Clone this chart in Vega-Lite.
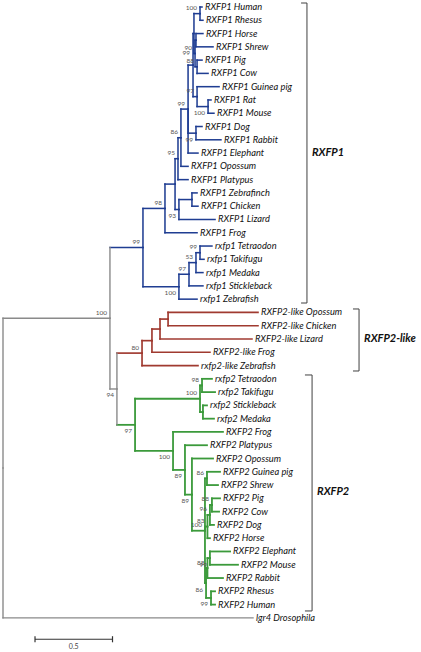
{
  "$schema": "https://vega.github.io/schema/vega-lite/v6.json",
  "width": 421,
  "height": 652,
  "autosize": {"type": "fit", "contains": "padding"},
  "padding": 0,
  "background": "white",
  "config": {"view": {"stroke": null}, "axis": {"disable": true}, "legend": {"disable": true}},
  "datasets": {
    "tree": [
      {"id":"root","parent":null,"x":0,"y":34.72,"g":"gray"},
      {"id":"A","parent":"root","x":0.690,"y":23.44,"g":"gray","bs":"100","pos":"above"},
      {"id":"L46","parent":"root","x":1.613,"y":46,"g":"gray","name":"lgr4 Drosophila"},
      {"id":"B","parent":"A","x":0.735,"y":28.764,"g":"gray","bs":"94","pos":"below"},
      {"id":"RX1","parent":"A","x":0.903,"y":18.115,"g":"blue","bs":"99","pos":"above"},
      {"id":"N98","parent":"RX1","x":1.045,"y":15.168,"g":"blue","bs":"98","pos":"above"},
      {"id":"L17","parent":"N98","x":1.252,"y":17,"g":"blue","name":"RXFP1 Frog"},
      {"id":"Amn","parent":"N98","x":1.110,"y":13.336,"g":"blue"},
      {"id":"N95","parent":"Amn","x":1.129,"y":11.422,"g":"blue","bs":"95","pos":"above"},
      {"id":"N93","parent":"Amn","x":1.135,"y":15.25,"g":"blue","bs":"93","pos":"below"},
      {"id":"ZC","parent":"N93","x":1.219,"y":14.5,"g":"blue"},
      {"id":"L14","parent":"ZC","x":1.252,"y":14,"g":"blue","name":"RXFP1 Zebrafinch"},
      {"id":"L15","parent":"ZC","x":1.258,"y":15,"g":"blue","name":"RXFP1 Chicken"},
      {"id":"L16","parent":"N93","x":1.368,"y":16,"g":"blue","name":"RXFP1 Lizard"},
      {"id":"L13","parent":"N95","x":1.194,"y":13,"g":"blue","name":"RXFP1 Platypus"},
      {"id":"N86","parent":"N95","x":1.148,"y":9.844,"g":"blue","bs":"86","pos":"above"},
      {"id":"L12","parent":"N86","x":1.194,"y":12,"g":"blue","name":"RXFP1 Opossum"},
      {"id":"E","parent":"N86","x":1.194,"y":7.6875,"g":"blue","bs":"99","pos":"above"},
      {"id":"L11","parent":"E","x":1.258,"y":11,"g":"blue","name":"RXFP1 Elephant"},
      {"id":"DR","parent":"E","x":1.245,"y":9.5,"g":"blue","bs":"99","pos":"below"},
      {"id":"L9","parent":"DR","x":1.284,"y":9,"g":"blue","name":"RXFP1 Dog"},
      {"id":"L10","parent":"DR","x":1.406,"y":10,"g":"blue","name":"RXFP1 Rabbit"},
      {"id":"P2","parent":"E","x":1.226,"y":4.375,"g":"blue","bs":"99","pos":"high"},
      {"id":"GRM","parent":"P2","x":1.252,"y":6.75,"g":"blue","bs":"97","pos":"above"},
      {"id":"L6","parent":"GRM","x":1.394,"y":6,"g":"blue","name":"RXFP1 Guinea pig"},
      {"id":"RM","parent":"GRM","x":1.323,"y":7.5,"g":"blue","bs":"100","pos":"below"},
      {"id":"L7","parent":"RM","x":1.342,"y":7,"g":"blue","name":"RXFP1 Rat"},
      {"id":"L8","parent":"RM","x":1.361,"y":8,"g":"blue","name":"RXFP1 Mouse"},
      {"id":"P1","parent":"P2","x":1.232,"y":2.0,"g":"blue"},
      {"id":"HR","parent":"P1","x":1.271,"y":0.5,"g":"blue","bs":"100","pos":"above"},
      {"id":"L0","parent":"HR","x":1.284,"y":0,"g":"blue","name":"RXFP1 Human"},
      {"id":"L1","parent":"HR","x":1.290,"y":1,"g":"blue","name":"RXFP1 Rhesus"},
      {"id":"N90","parent":"P1","x":1.239,"y":3.5,"g":"blue","bs":"90","pos":"above"},
      {"id":"HS","parent":"N90","x":1.245,"y":2.5,"g":"blue"},
      {"id":"L2","parent":"HS","x":1.290,"y":2,"g":"blue","name":"RXFP1 Horse"},
      {"id":"L3","parent":"HS","x":1.355,"y":3,"g":"blue","name":"RXFP1 Shrew"},
      {"id":"PC1","parent":"N90","x":1.252,"y":4.5,"g":"blue","bs":"88","pos":"above"},
      {"id":"L4","parent":"PC1","x":1.284,"y":4,"g":"blue","name":"RXFP1 Pig"},
      {"id":"L5","parent":"PC1","x":1.323,"y":5,"g":"blue","name":"RXFP1 Cow"},
      {"id":"F1","parent":"RX1","x":1.135,"y":21.0625,"g":"blue","bs":"100","pos":"below"},
      {"id":"L22","parent":"F1","x":1.252,"y":22,"g":"blue","name":"rxfp1 Zebrafish"},
      {"id":"N97f","parent":"F1","x":1.200,"y":20.125,"g":"blue","bs":"97","pos":"above"},
      {"id":"L21","parent":"N97f","x":1.290,"y":21,"g":"blue","name":"rxfp1 Stickleback"},
      {"id":"N53","parent":"N97f","x":1.245,"y":19.25,"g":"blue","bs":"53","pos":"above"},
      {"id":"L20","parent":"N53","x":1.290,"y":20,"g":"blue","name":"rxfp1 Medaka"},
      {"id":"TT1","parent":"N53","x":1.271,"y":18.5,"g":"blue","bs":"99","pos":"above"},
      {"id":"L18","parent":"TT1","x":1.348,"y":18,"g":"blue","name":"rxfp1 Tetraodon"},
      {"id":"L19","parent":"TT1","x":1.297,"y":19,"g":"blue","name":"rxfp1 Takifugu"},
      {"id":"N80","parent":"B","x":0.897,"y":26.0625,"g":"red","bs":"80","pos":"above"},
      {"id":"L27","parent":"N80","x":1.258,"y":27,"g":"red","name":"rxfp2-like Zebrafish"},
      {"id":"OCLF","parent":"N80","x":0.961,"y":25.125,"g":"red"},
      {"id":"L26","parent":"OCLF","x":1.335,"y":26,"g":"red","name":"RXFP2-like Frog"},
      {"id":"OCL","parent":"OCLF","x":1.013,"y":24.25,"g":"red"},
      {"id":"L25","parent":"OCL","x":1.606,"y":25,"g":"red","name":"RXFP2-like Lizard"},
      {"id":"OC","parent":"OCL","x":1.065,"y":23.5,"g":"red"},
      {"id":"L23","parent":"OC","x":1.645,"y":23,"g":"red","name":"RXFP2-like Opossum"},
      {"id":"L24","parent":"OC","x":1.645,"y":24,"g":"red","name":"RXFP2-like Chicken"},
      {"id":"N97g","parent":"B","x":0.852,"y":31.465,"g":"green","bs":"97","pos":"below"},
      {"id":"F2","parent":"N97g","x":1.271,"y":29.5,"g":"green","bs":"100","pos":"above"},
      {"id":"TT2","parent":"F2","x":1.284,"y":28.5,"g":"green","bs":"98","pos":"above"},
      {"id":"L28","parent":"TT2","x":1.348,"y":28,"g":"green","name":"rxfp2 Tetraodon"},
      {"id":"L29","parent":"TT2","x":1.368,"y":29,"g":"green","name":"rxfp2 Takifugu"},
      {"id":"SM","parent":"F2","x":1.290,"y":30.5,"g":"green"},
      {"id":"L30","parent":"SM","x":1.316,"y":30,"g":"green","name":"rxfp2 Stickleback"},
      {"id":"L31","parent":"SM","x":1.361,"y":31,"g":"green","name":"rxfp2 Medaka"},
      {"id":"N100b","parent":"N97g","x":1.097,"y":33.43,"g":"green","bs":"100","pos":"below"},
      {"id":"L32","parent":"N100b","x":1.419,"y":32,"g":"green","name":"RXFP2 Frog"},
      {"id":"X","parent":"N100b","x":1.174,"y":34.86,"g":"green","bs":"89","pos":"below"},
      {"id":"L33","parent":"X","x":1.316,"y":33,"g":"green","name":"RXFP2 Platypus"},
      {"id":"Y","parent":"X","x":1.219,"y":36.72,"g":"green","bs":"89","pos":"below"},
      {"id":"L34","parent":"Y","x":1.355,"y":34,"g":"green","name":"RXFP2 Opossum"},
      {"id":"PR","parent":"Y","x":1.303,"y":39.4375,"g":"green","bs":"100","pos":"above"},
      {"id":"GS","parent":"PR","x":1.316,"y":35.5,"g":"green","bs":"86","pos":"above"},
      {"id":"L35","parent":"GS","x":1.400,"y":35,"g":"green","name":"RXFP2 Guinea pig"},
      {"id":"L36","parent":"GS","x":1.387,"y":36,"g":"green","name":"RXFP2 Shrew"},
      {"id":"PCDH","parent":"PR","x":1.319,"y":39.125,"g":"green","bs":"83","pos":"above"},
      {"id":"L40","parent":"PCDH","x":1.335,"y":40,"g":"green","name":"RXFP2 Horse"},
      {"id":"PCD","parent":"PCDH","x":1.335,"y":38.25,"g":"green","bs":"96","pos":"above"},
      {"id":"L39","parent":"PCD","x":1.361,"y":39,"g":"green","name":"RXFP2 Dog"},
      {"id":"PC2","parent":"PCD","x":1.348,"y":37.5,"g":"green","bs":"88","pos":"above"},
      {"id":"L37","parent":"PC2","x":1.400,"y":37,"g":"green","name":"RXFP2 Pig"},
      {"id":"L38","parent":"PC2","x":1.394,"y":38,"g":"green","name":"RXFP2 Cow"},
      {"id":"ERR","parent":"PR","x":1.310,"y":43.375,"g":"green","bs":"86","pos":"below"},
      {"id":"ER","parent":"ERR","x":1.319,"y":42.25,"g":"green","bs":"88","pos":"above"},
      {"id":"EM","parent":"ER","x":1.335,"y":41.5,"g":"green","bs":"99","pos":"below"},
      {"id":"L41","parent":"EM","x":1.465,"y":41,"g":"green","name":"RXFP2 Elephant"},
      {"id":"L42","parent":"EM","x":1.516,"y":42,"g":"green","name":"RXFP2 Mouse"},
      {"id":"L43","parent":"ER","x":1.419,"y":43,"g":"green","name":"RXFP2 Rabbit"},
      {"id":"RH","parent":"ERR","x":1.342,"y":44.5,"g":"green","bs":"99","pos":"below"},
      {"id":"L44","parent":"RH","x":1.368,"y":44,"g":"green","name":"RXFP2 Rhesus"},
      {"id":"L45","parent":"RH","x":1.368,"y":45,"g":"green","name":"RXFP2 Human"}
    ],
    "clades": [
      {"clade":"RXFP1","bx":1.961,"tx":1.923,"top":-0.3,"bot":22.29,"ly":10.99},
      {"clade":"RXFP2-like","bx":2.297,"tx":2.258,"top":22.74,"bot":27.41,"ly":25.0},
      {"clade":"RXFP2","bx":1.994,"tx":1.948,"top":27.71,"bot":45.48,"ly":36.52}
    ],
    "scalebar": [
      {"x0":0.2065,"x1":0.7065,"xm":0.4565,"y":47.61,"ylo":47.38,"yhi":47.84,"label":"0.5"}
    ]
  },
  "layer": [
    {
      "data": {"name": "tree"},
      "transform": [
        {"filter": "datum.parent != null"},
        {"lookup": "parent", "from": {"data": {"name": "tree"}, "key": "id", "fields": ["x", "y", "g"]}, "as": ["px", "py", "pg"]}
      ],
      "mark": {"type": "rule", "strokeCap": "square"},
      "encoding": {
        "x": {"field": "px", "type": "quantitative", "scale": {"domain": [-0.01935, 2.69677], "nice": false, "zero": false}},
        "x2": {"field": "x"},
        "y": {"field": "y", "type": "quantitative", "scale": {"domain": [-0.527, 48.57], "reverse": true, "nice": false, "zero": false}},
        "color": {"field": "g", "type": "nominal", "scale": {"domain": ["gray", "blue", "red", "green"], "range": ["#8a8a8a", "#1f3d92", "#a03a30", "#3b9a3b"]}, "legend": null},
        "strokeWidth": {"field": "g", "type": "nominal", "scale": {"domain": ["gray", "blue", "red", "green"], "range": [1.4, 1.8, 1.6, 1.6]}, "legend": null}
      }
    },
    {
      "data": {"name": "tree"},
      "transform": [
        {"filter": "datum.parent != null"},
        {"lookup": "parent", "from": {"data": {"name": "tree"}, "key": "id", "fields": ["x", "y", "g"]}, "as": ["px", "py", "pg"]}
      ],
      "mark": {"type": "rule", "strokeCap": "square"},
      "encoding": {
        "x": {"field": "px", "type": "quantitative", "scale": {"domain": [-0.01935, 2.69677], "nice": false, "zero": false}},
        "y": {"field": "py", "type": "quantitative", "scale": {"domain": [-0.527, 48.57], "reverse": true, "nice": false, "zero": false}},
        "y2": {"field": "y"},
        "color": {"field": "pg", "type": "nominal", "scale": {"domain": ["gray", "blue", "red", "green"], "range": ["#8a8a8a", "#1f3d92", "#a03a30", "#3b9a3b"]}, "legend": null},
        "strokeWidth": {"field": "pg", "type": "nominal", "scale": {"domain": ["gray", "blue", "red", "green"], "range": [1.4, 1.8, 1.6, 1.6]}, "legend": null}
      }
    },
    {
      "data": {"name": "tree"},
      "transform": [{"filter": "datum.name != null"}],
      "mark": {"type": "text", "align": "left", "baseline": "middle", "dx": 3, "font": "Lato", "fontStyle": "italic", "fontSize": 9.3, "color": "#111111"},
      "encoding": {
        "x": {"field": "x", "type": "quantitative", "scale": {"domain": [-0.01935, 2.69677], "nice": false, "zero": false}},
        "y": {"field": "y", "type": "quantitative", "scale": {"domain": [-0.527, 48.57], "reverse": true, "nice": false, "zero": false}},
        "text": {"field": "name"}
      }
    },
    {
      "data": {"name": "tree"},
      "transform": [{"filter": "datum.pos == 'above'"}],
      "mark": {"type": "text", "align": "right", "baseline": "middle", "dx": -3, "dy": -5.5, "font": "Lato", "fontSize": 6.5, "color": "#555555"},
      "encoding": {
        "x": {"field": "x", "type": "quantitative", "scale": {"domain": [-0.01935, 2.69677], "nice": false, "zero": false}},
        "y": {"field": "y", "type": "quantitative", "scale": {"domain": [-0.527, 48.57], "reverse": true, "nice": false, "zero": false}},
        "text": {"field": "bs"}
      }
    },
    {
      "data": {"name": "tree"},
      "transform": [{"filter": "datum.pos == 'high'"}],
      "mark": {"type": "text", "align": "right", "baseline": "middle", "dx": -3, "dy": -12, "font": "Lato", "fontSize": 6.5, "color": "#555555"},
      "encoding": {
        "x": {"field": "x", "type": "quantitative", "scale": {"domain": [-0.01935, 2.69677], "nice": false, "zero": false}},
        "y": {"field": "y", "type": "quantitative", "scale": {"domain": [-0.527, 48.57], "reverse": true, "nice": false, "zero": false}},
        "text": {"field": "bs"}
      }
    },
    {
      "data": {"name": "tree"},
      "transform": [{"filter": "datum.pos == 'below'"}],
      "mark": {"type": "text", "align": "right", "baseline": "middle", "dx": -3, "dy": 6.5, "font": "Lato", "fontSize": 6.5, "color": "#555555"},
      "encoding": {
        "x": {"field": "x", "type": "quantitative", "scale": {"domain": [-0.01935, 2.69677], "nice": false, "zero": false}},
        "y": {"field": "y", "type": "quantitative", "scale": {"domain": [-0.527, 48.57], "reverse": true, "nice": false, "zero": false}},
        "text": {"field": "bs"}
      }
    },
    {
      "data": {"name": "clades"},
      "mark": {"type": "rule", "color": "#404040", "strokeWidth": 1},
      "encoding": {
        "x": {"field": "bx", "type": "quantitative", "scale": {"domain": [-0.01935, 2.69677], "nice": false, "zero": false}},
        "y": {"field": "top", "type": "quantitative", "scale": {"domain": [-0.527, 48.57], "reverse": true, "nice": false, "zero": false}},
        "y2": {"field": "bot"}
      }
    },
    {
      "data": {"name": "clades"},
      "mark": {"type": "rule", "color": "#404040", "strokeWidth": 1},
      "encoding": {
        "x": {"field": "tx", "type": "quantitative", "scale": {"domain": [-0.01935, 2.69677], "nice": false, "zero": false}},
        "x2": {"field": "bx"},
        "y": {"field": "top", "type": "quantitative", "scale": {"domain": [-0.527, 48.57], "reverse": true, "nice": false, "zero": false}}
      }
    },
    {
      "data": {"name": "clades"},
      "mark": {"type": "rule", "color": "#404040", "strokeWidth": 1},
      "encoding": {
        "x": {"field": "tx", "type": "quantitative", "scale": {"domain": [-0.01935, 2.69677], "nice": false, "zero": false}},
        "x2": {"field": "bx"},
        "y": {"field": "bot", "type": "quantitative", "scale": {"domain": [-0.527, 48.57], "reverse": true, "nice": false, "zero": false}}
      }
    },
    {
      "data": {"name": "clades"},
      "mark": {"type": "text", "align": "left", "baseline": "middle", "dx": 5, "font": "Lato", "fontStyle": "italic", "fontWeight": "bold", "fontSize": 11, "color": "#111111"},
      "encoding": {
        "x": {"field": "bx", "type": "quantitative", "scale": {"domain": [-0.01935, 2.69677], "nice": false, "zero": false}},
        "y": {"field": "ly", "type": "quantitative", "scale": {"domain": [-0.527, 48.57], "reverse": true, "nice": false, "zero": false}},
        "text": {"field": "clade"}
      }
    },
    {
      "data": {"name": "scalebar"},
      "mark": {"type": "rule", "color": "#333333", "strokeWidth": 1.2},
      "encoding": {
        "x": {"field": "x0", "type": "quantitative", "scale": {"domain": [-0.01935, 2.69677], "nice": false, "zero": false}},
        "x2": {"field": "x1"},
        "y": {"field": "y", "type": "quantitative", "scale": {"domain": [-0.527, 48.57], "reverse": true, "nice": false, "zero": false}}
      }
    },
    {
      "data": {"name": "scalebar"},
      "mark": {"type": "rule", "color": "#333333", "strokeWidth": 1.2},
      "encoding": {
        "x": {"field": "x0", "type": "quantitative", "scale": {"domain": [-0.01935, 2.69677], "nice": false, "zero": false}},
        "y": {"field": "ylo", "type": "quantitative", "scale": {"domain": [-0.527, 48.57], "reverse": true, "nice": false, "zero": false}},
        "y2": {"field": "yhi"}
      }
    },
    {
      "data": {"name": "scalebar"},
      "mark": {"type": "rule", "color": "#333333", "strokeWidth": 1.2},
      "encoding": {
        "x": {"field": "x1", "type": "quantitative", "scale": {"domain": [-0.01935, 2.69677], "nice": false, "zero": false}},
        "y": {"field": "ylo", "type": "quantitative", "scale": {"domain": [-0.527, 48.57], "reverse": true, "nice": false, "zero": false}},
        "y2": {"field": "yhi"}
      }
    },
    {
      "data": {"name": "scalebar"},
      "mark": {"type": "text", "align": "center", "baseline": "middle", "dy": 8, "font": "Lato", "fontSize": 7, "color": "#444444"},
      "encoding": {
        "x": {"field": "xm", "type": "quantitative", "scale": {"domain": [-0.01935, 2.69677], "nice": false, "zero": false}},
        "y": {"field": "y", "type": "quantitative", "scale": {"domain": [-0.527, 48.57], "reverse": true, "nice": false, "zero": false}},
        "text": {"field": "label"}
      }
    }
  ]
}
